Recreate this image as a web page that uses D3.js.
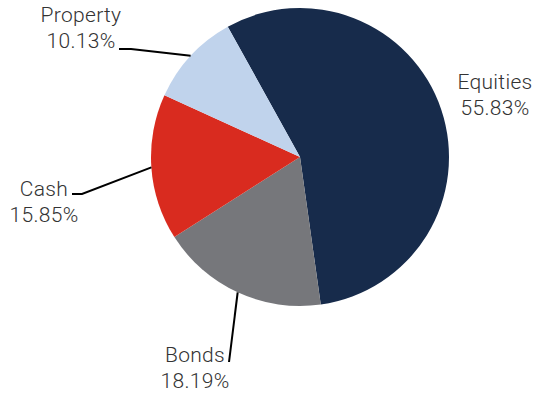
<!DOCTYPE html>
<html>
<head>
<meta charset="utf-8">
<script src="https://cdn.jsdelivr.net/npm/d3@7"></script>
<style>
  body { margin: 0; background: #fff; }
  text { font-family: Roboto, sans-serif; font-weight: 300; font-size: 21px; letter-spacing: 0.3px; fill: #333; }
</style>
</head>
<body>
<div id="pie"></div>
<script>
// data
var categories = ["Equities", "Bonds", "Cash", "Property"];
var shares = [55.83, 18.19, 15.85, 10.13];
var colours = ["#172b4b", "#76777b", "#d92b1f", "#c0d3ec"];

var width = 535, height = 396;
var cx = 300, cy = 157, radius = 149;

// label placement: text centre, elbow of the leader (null = no leader)
var labelPos = [
  {x: 495, y: 89, elbow: null, tail: null},
  {x: 195, y: 362, elbow: [229, 362], tail: null},
  {x: 44, y: 196, elbow: [82, 194], tail: 72},
  {x: 81, y: 22, elbow: [131, 49], tail: 119}
];

var svg = d3.select("#pie")
  .append("svg")
    .attr("width", width)
    .attr("height", height);

var g = svg.append("g")
    .attr("transform", "translate(" + cx + "," + cy + ")");

var startA = -29 * Math.PI / 180;
var pie = d3.pie().sort(null).value(function(d) { return d; })
    .startAngle(startA).endAngle(startA + 2 * Math.PI);
var arcs = pie(shares);

var arc = d3.arc().innerRadius(0).outerRadius(radius);

g.selectAll("path.slice")
  .data(arcs)
  .enter()
  .append("path")
    .attr("class", "slice")
    .attr("d", arc)
    .style("fill", function(d, i) { return colours[i]; });

// leader lines
arcs.forEach(function(d, i) {
  var p = labelPos[i];
  if (!p.elbow) return;
  var mid = (d.startAngle + d.endAngle) / 2;
  var sx = cx + radius * Math.sin(mid), sy = cy - radius * Math.cos(mid);
  var pts = [[sx, sy], p.elbow];
  if (p.tail !== null) pts.push([p.tail, p.elbow[1]]);
  svg.append("path")
    .attr("d", d3.line()(pts))
    .style("fill", "none")
    .style("stroke", "#000")
    .style("stroke-width", 2);
});

// labels
arcs.forEach(function(d, i) {
  var p = labelPos[i];
  var t = svg.append("text").attr("text-anchor", "middle");
  t.append("tspan").attr("x", p.x).attr("y", p.y).text(categories[i]);
  t.append("tspan").attr("x", p.x).attr("y", p.y + 26).text(shares[i].toFixed(2) + "%");
});
</script>
</body>
</html>
